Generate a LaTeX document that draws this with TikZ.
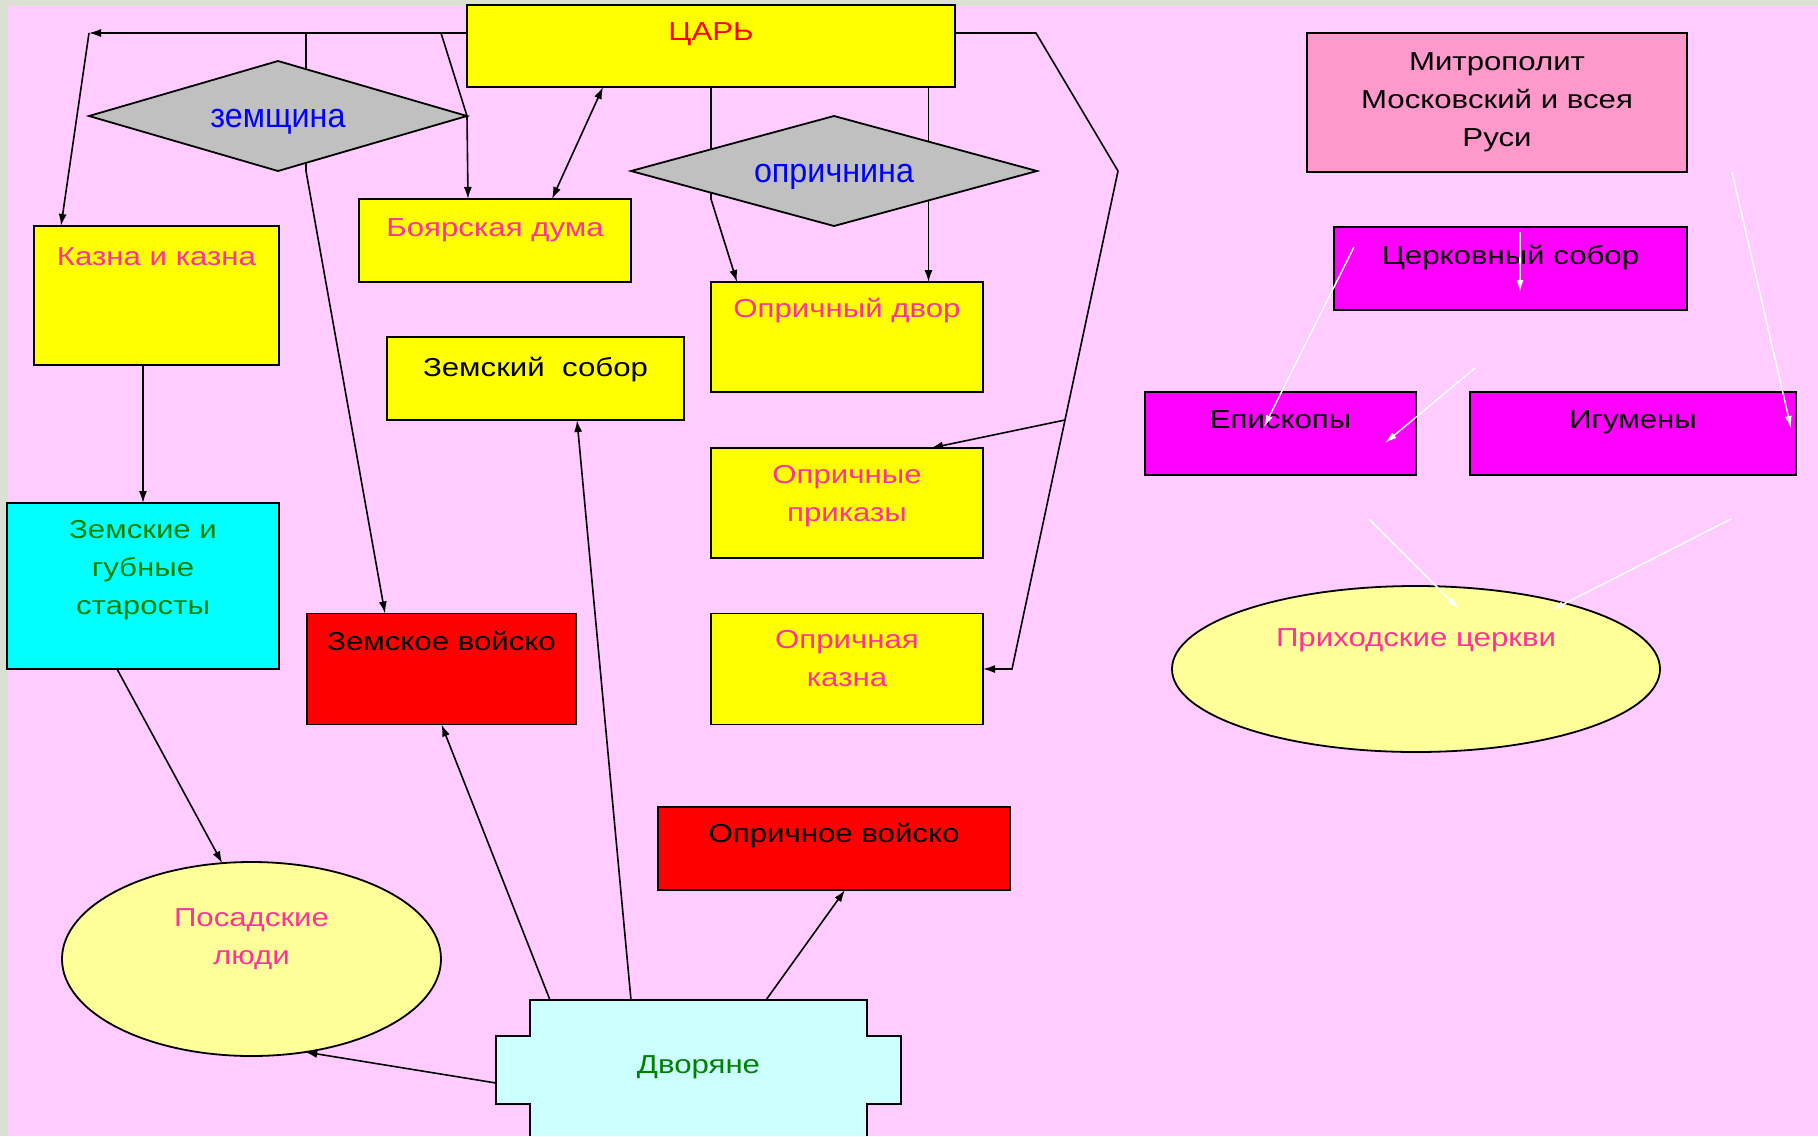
\documentclass[tikz,border=0pt]{standalone}
\usepackage{fontspec}
\setmainfont{Liberation Sans}[FakeStretch=1.2]
\newfontfamily\rhombfont{Liberation Sans}[FakeStretch=0.95]
\usetikzlibrary{shapes.geometric,arrows.meta,backgrounds,calc}
\definecolor{bgPink}{HTML}{FFCCFF}
\definecolor{bgGray}{HTML}{DAE1D3}
\definecolor{rhombGray}{HTML}{C0C0C0}
\definecolor{boxYellow}{HTML}{FFFF00}
\definecolor{boxRed}{HTML}{FF0000}
\definecolor{boxCyan}{HTML}{00FFFF}
\definecolor{boxMagenta}{HTML}{FF00FF}
\definecolor{ovalYellow}{HTML}{FFFF99}
\definecolor{mitrPink}{HTML}{FF99CC}
\definecolor{dvorCyan}{HTML}{CCFFFF}
\definecolor{textRed}{HTML}{FF0000}
\definecolor{textBlue}{HTML}{0000FF}
\definecolor{textPink}{HTML}{FF3399}
\definecolor{textGreen}{HTML}{008000}

\begin{document}
\begin{tikzpicture}[x=1pt,y=-1pt,font=\fontsize{26}{38}\selectfont]
			\tikzstyle{boxs} = [draw, line width=1.8pt, outer sep=0pt, inner sep=0pt]
			\tikzstyle{boxsY} = [boxs, fill=boxYellow]
			\tikzstyle{boxsR} = [boxs, fill=boxRed]
			\tikzstyle{boxsM} = [boxs, fill=boxMagenta]
			\tikzstyle{rhomb} = [boxs, diamond, aspect=3.4, fill=rhombGray, text=textBlue,
				font=\rhombfont\fontsize{34}{40}\selectfont, text height=22pt, text depth=0pt]
			\tikzstyle{oval} = [boxs, ellipse, fill=ovalYellow]
			\tikzstyle{lbl} = [anchor=north, inner sep=0pt, align=center]
			\tikzstyle{line} = [draw, line width=1.6pt, -{Latex[length=12pt,width=8pt]}]
			\tikzstyle{lineB} = [draw, line width=1.6pt, {Latex[length=12pt,width=8pt]}-{Latex[length=12pt,width=8pt]}]
			\tikzstyle{lineW} = [draw=white, line width=1.5pt, -{Latex[length=12pt,width=7pt]}]

			\useasboundingbox (0,0) rectangle (1818,1136);
			\begin{scope}[on background layer]
				\fill[bgGray] (0,0) rectangle (1818,1136);
				\fill[bgPink] (8,6) rectangle (1818,1136);
			\end{scope}

			\node(Tsar)[boxsY, minimum width=488pt, minimum height=82pt,
				label={[lbl,yshift=-17pt,text=textRed]north:ЦАРЬ}] at (711,46) {};
			\node(Zemshchina)[rhomb, minimum width=378pt, minimum height=110pt] at (278,116) {земщина};
			\node(Oprichnina)[rhomb, minimum width=406pt, minimum height=110pt] at (834,171) {опричнина};

			\node(Kazna)[boxsY, minimum width=245pt, minimum height=139pt,
				label={[lbl,yshift=-21pt,text=textPink]north:Казна и казна}] at (156.5,295.5) {};
			\node(BoyarDuma)[boxsY, minimum width=272pt, minimum height=83pt,
				label={[lbl,yshift=-19pt,text=textPink]north:Боярская дума}] at (495,240.5) {};
			\node(ZemSobor)[boxsY, minimum width=297pt, minimum height=83pt,
				label={[lbl,yshift=-20pt]north:Земский\ \ собор}] at (535.5,378.5) {};

			\tikzset{node distance = 166pt}
			\node(OprDvor)[boxsY, minimum width=272pt, minimum height=110pt,
				label={[lbl,yshift=-16pt,text=textPink]north:Опричный двор}] at (847,337) {};
			\node(OprPrikazy)[boxsY, minimum width=272pt, minimum height=110pt, below of = OprDvor,
				label={[lbl,yshift=-17pt,text=textPink]north:Опричные\\приказы}] {};
			\node(OprKazna)[boxsY, minimum width=272pt, minimum height=111pt, below of = OprPrikazy,
				label={[lbl,yshift=-17pt,text=textPink]north:Опричная\\казна}] {};
			\tikzset{node distance = 405.5pt}
			\node(ZemVoisko)[boxsR, minimum width=269pt, minimum height=111pt, left of = OprKazna,
				label={[lbl,yshift=-17pt]north:Земское войско}] {};

			\node(Starosty)[boxs, fill=boxCyan, minimum width=272pt, minimum height=166pt,
				label={[lbl,yshift=-17pt,text=textGreen]north:Земские и\\губные\\старосты}] at (143,586) {};
			\node(OprVoisko)[boxsR, minimum width=352pt, minimum height=83pt,
				label={[lbl,yshift=-16pt]north:Опричное войско}] at (834,848.5) {};
			\node(Posad)[oval, minimum width=379pt, minimum height=194pt,
				label={[lbl,yshift=-46pt,text=textPink]north:Посадские\\люди}] at (251.5,959) {};
			\node(Dvoryane)[inner sep=0pt, outer sep=0pt, minimum width=337pt, minimum height=136pt,
				label={[lbl,yshift=-55pt,text=textGreen]north:Дворяне}] at (698.5,1068) {};

			\node(Mitropolit)[boxs, fill=mitrPink, minimum width=380pt, minimum height=139pt,
				label={[lbl,yshift=-19pt]north:Митрополит\\Московский и всея\\Руси}] at (1497,102.5) {};
			\node(TserkSobor)[boxsM, minimum width=353pt, minimum height=83pt,
				label={[lbl,yshift=-18pt]north:Церковный собор}] at (1510.5,268.5) {};
			\node(Episkopy)[boxsM, minimum width=271pt, minimum height=83pt,
				label={[lbl,yshift=-18pt]north:Епископы}] at (1280.5,433.5) {};
			\tikzset{node distance = 352.5pt}
			\node(Igumeny)[boxsM, minimum width=326pt, minimum height=83pt, right of = Episkopy,
				label={[lbl,yshift=-18pt]north:Игумены}] {};
			\node(Prikhod)[oval, minimum width=488pt, minimum height=166pt,
				label={[lbl,yshift=-42pt,text=textPink]north:Приходские церкви}] at (1416,669) {};

			\coordinate (CornerL) at (89,33);
			\coordinate (BranchZ) at (306,33);
			\coordinate (BranchD) at (441,33);
			\coordinate (CornerR1) at (1036,33);
			\coordinate (CornerR2) at (1118,171);
			\coordinate (CornerR3) at (1012,669);

			\begin{scope}[on background layer]
				\filldraw[fill=dvorCyan, line width=1.8pt] (Dvoryane.south west) -- ([yshift=-36pt]Dvoryane.west)
					-- ([xshift=-34pt,yshift=-36pt]Dvoryane.west) -- ([xshift=-34pt,yshift=32pt]Dvoryane.west)
					-- ([yshift=32pt]Dvoryane.west) -- (Dvoryane.north west) -- (Dvoryane.north east)
					-- ([yshift=32pt]Dvoryane.east) -- ([xshift=34pt,yshift=32pt]Dvoryane.east)
					-- ([xshift=34pt,yshift=-36pt]Dvoryane.east) -- ([yshift=-36pt]Dvoryane.east) -- (Dvoryane.south east);

				\draw[line] ([yshift=13pt]Tsar.west) -- (CornerL);
				\draw[line] (CornerL) -- ([xshift=-95.5pt]Kazna.north);
				\draw[line] (BranchZ) -- ([xshift=28pt]Zemshchina.south) -- ([xshift=-56.5pt]ZemVoisko.north);
				\draw[line] (BranchD) -- (Zemshchina.east) -- ([xshift=-27pt]BoyarDuma.north);
				\draw[lineB] ([xshift=-108pt]Tsar.south) -- ([xshift=57pt]BoyarDuma.north);
				\draw[line] (Tsar.south) -- ++(0,112) -- ([xshift=-110pt]OprDvor.north);
				\draw[line] ([xshift=217.5pt]Tsar.south) -- ([xshift=81.5pt]OprDvor.north);
				\draw[line] ([yshift=13pt]Tsar.east) -- (CornerR1) -- (CornerR2) -- (CornerR3) -- (OprKazna.east);
				\draw[line] ($(CornerR2)!0.5!(CornerR3)$) -- ([xshift=84pt]OprPrikazy.north);
				\draw[line] ([xshift=-13.5pt]Kazna.south) -- (Starosty.north);
				\draw[line] ([xshift=-26pt]Starosty.south) -- (Posad.107);
				\draw[line] ([xshift=-34pt,yshift=-15pt]Dvoryane.west) -- (Posad.-60);
				\draw[line] ([xshift=20pt]Dvoryane.north west) -- (ZemVoisko.south);
				\draw[line] ([xshift=101pt]Dvoryane.north west) -- ([xshift=41.5pt]ZemSobor.south);
				\draw[line] ([xshift=236pt]Dvoryane.north west) -- ([xshift=11pt]OprVoisko.south);
			\end{scope}

			% white arrows of the church part
			\coordinate (ChA) at (1520,232);
			\coordinate (ChB) at (1520,292);
			\coordinate (ChC) at (1354,247);
			\coordinate (ChD) at (1264,427);
			\coordinate (ChE) at (1475,368);
			\coordinate (ChF) at (1385,443);
			\coordinate (ChG) at (1732,172);
			\coordinate (ChH) at (1791,428);
			\coordinate (ChI) at (1369,519);
			\coordinate (ChJ) at (1459,609);
			\coordinate (ChK) at (1731,519);
			\coordinate (ChL) at (1552,610);
			\draw[lineW] (ChA) -- (ChB);
			\draw[lineW] (ChC) -- (ChD);
			\draw[lineW] (ChE) -- (ChF);
			\draw[lineW] (ChG) -- (ChH);
			\draw[lineW] (ChI) -- (ChJ);
			\draw[lineW] (ChK) -- (ChL);
		\end{tikzpicture}
\end{document}
